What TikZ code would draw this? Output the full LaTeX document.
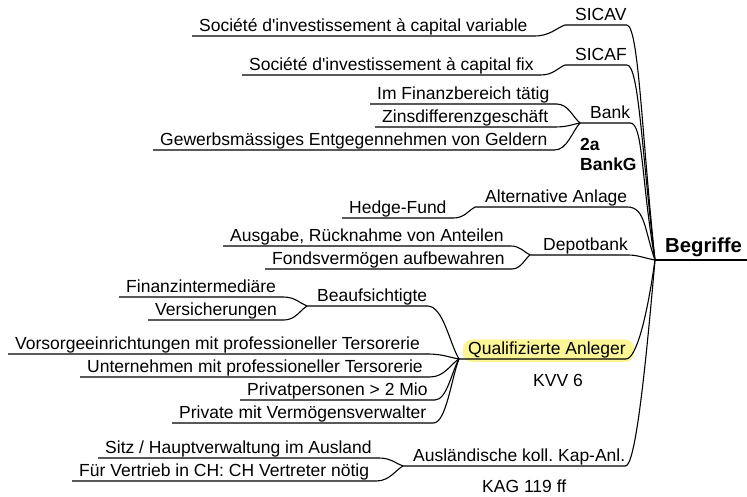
\documentclass[tikz,border=0pt]{standalone}
\usepackage{fontspec}
\setmainfont{Liberation Sans}
\usetikzlibrary{calc,backgrounds}
\frenchspacing
\tikzset{
  leaf/.style={font=\fontsize{17.5}{20}\selectfont, inner xsep=7pt, inner ysep=0pt, text depth=4.5pt, anchor=south west},
  branch/.style={font=\fontsize{17.5}{20}\selectfont, inner xsep=0pt, inner ysep=0pt, text depth=4.5pt, anchor=south west, execute at begin node={\hspace*{#1}}},
  branch/.default=10pt,
  rootnode/.style={font=\fontsize{20.3}{24}\selectfont\bfseries, inner xsep=0pt, inner ysep=0pt, text depth=7pt, anchor=south west, execute at begin node={\hspace*{10pt}}, execute at end node={\hspace*{5pt}}},
  note/.style={font=\fontsize{17.5}{20}\selectfont, inner sep=0pt},
  conn/.style={line width=1.1pt, black},
  hl/.style={fill={rgb,255:red,251;green,245;blue,150}},
}
\newcommand\mmlink[2]{\draw[conn] let \p1=(#1.south east), \p2=(#2.south west) in (#1.south west) -- (\p1) .. controls ({\x1+0.5*(\x2-\x1)},\y1) and ({\x2-0.3*(\x2-\x1)},{\y2+0.3*(\y1-\y2)}) .. (\p2);}
\begin{document}
\begin{tikzpicture}[x=1pt,y=1pt]
\useasboundingbox (0,0) rectangle (747,497);
% root
\node[rootnode] (root) at (655,237) {Begriffe};
% main branches
\node[branch] (sicav) at (565,472) {SICAV};
\node[branch] (sicaf) at (565,432) {SICAF};
\node[branch] (bank) at (580,374) {Bank};
\node[branch] (alt) at (475,290) {Alternative Anlage};
\node[branch=13pt] (depot) at (530,242) {Depotbank};
\node[branch=9pt] (q) at (459,138) {Qualifizierte Anleger};
\node[branch] (ausl) at (403,31) {Ausländische koll. Kap-Anl.};
\node[branch] (beauf) at (307,191) {Beaufsichtigte};
% leaves
\node[leaf] (l1) at (192,461) {Société d\textquotesingle investissement à capital variable};
\node[leaf] (l2) at (242,422) {Société d\textquotesingle investissement à capital fix};
\node[leaf] (l3) at (370,393) {Im Finanzbereich tätig};
\node[leaf] (l4) at (375,370) {Zinsdifferenzgeschäft};
\node[leaf] (l5) at (153,347) {Gewerbsmässiges Entgegennehmen von Geldern};
\node[leaf] (l6) at (342,279) {Hedge-Fund};
\node[leaf] (l7) at (223,251) {Ausgabe, Rücknahme von Anteilen};
\node[leaf] (l8) at (265,228) {Fondsvermögen aufbewahren};
\node[leaf] (l9) at (119,200) {Finanzintermediäre};
\node[leaf] (l10) at (148,177) {Versicherungen};
\node[leaf] (l11) at (8,143) {Vorsorgeeinrichtungen mit professioneller Tersorerie};
\node[leaf] (l12) at (80,120) {Unternehmen mit professioneller Tersorerie};
\node[leaf] (l13) at (240,97) {Privatpersonen > 2 Mio};
\node[leaf] (l14) at (172,74) {Private mit Vermögensverwalter};
\node[leaf] (l15) at (98,39) {Sitz / Hauptverwaltung im Ausland};
\node[leaf] (l16) at (72,16) {Für Vertrieb in CH: CH Vertreter nötig};
% notes
\node[note, font=\fontsize{17.5}{20}\selectfont\bfseries, align=left, anchor=north west] (bankg) at (580,359) {2a\\BankG};
\node[note, anchor=base west] (kvv) at (533,110) {KVV 6};
\node[note, anchor=base west] (kag) at (482,4) {KAG 119 ff};
% highlight
\begin{scope}[on background layer]
\fill[hl, rounded corners=9pt] ([shift={(4pt,-3pt)}]q.south west) rectangle ([shift={(8pt,2pt)}]q.north east);
\end{scope}
% root underline
\draw[conn] (root.south west) -- (root.south east);
% main connectors
\draw[conn] (sicav.south west) -- (sicav.south east) to[out=0,in=96,out distance=12pt,in distance=130pt] (root.south west);
\draw[conn] (sicaf.south west) -- (sicaf.south east) to[out=0,in=97,out distance=12pt,in distance=110pt] (root.south west);
\draw[conn] (bank.south west) -- (bank.south east) to[out=0,in=100,out distance=13pt,in distance=80pt] (root.south west);
\draw[conn] (alt.south west) -- (alt.south east) to[out=0,in=110,out distance=18pt,in distance=30pt] (root.south west);
\draw[conn] (depot.south west) -- (depot.south east) to[out=0,in=170,out distance=10pt,in distance=10pt] (root.south west);
\draw[conn] (q.south west) -- (q.south east) to[out=0,in=-98,out distance=10pt,in distance=60pt] (root.south west);
\draw[conn] (ausl.south west) -- (ausl.south east) to[out=0,in=-95,out distance=10pt,in distance=110pt] (root.south west);
% sub connectors
\mmlink{beauf}{q}
\mmlink{l1}{sicav}
\mmlink{l2}{sicaf}
\mmlink{l3}{bank}
\mmlink{l4}{bank}
\mmlink{l5}{bank}
\mmlink{l6}{alt}
\mmlink{l7}{depot}
\mmlink{l8}{depot}
\mmlink{l9}{beauf}
\mmlink{l10}{beauf}
\mmlink{l11}{q}
\mmlink{l12}{q}
\mmlink{l13}{q}
\mmlink{l14}{q}
\mmlink{l15}{ausl}
\mmlink{l16}{ausl}
\end{tikzpicture}
\end{document}
